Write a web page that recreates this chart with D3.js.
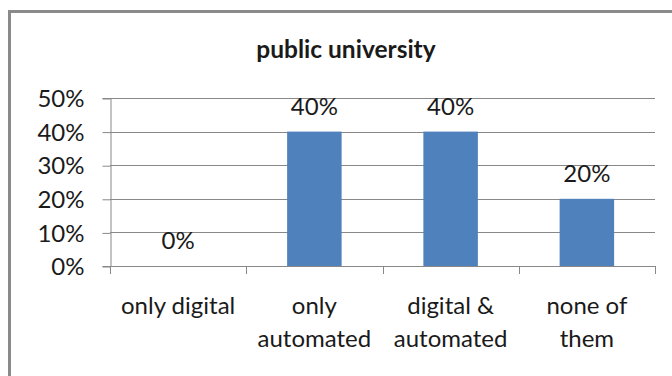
<!DOCTYPE html>
<html>
<head>
<meta charset="utf-8">
<script src="https://cdn.jsdelivr.net/npm/d3@7"></script>
<style>
  html, body { margin: 0; padding: 0; background: #fff; }
  svg { display: block; }
  text { font-family: Lato, "Open Sans", sans-serif; fill: #1a1a1a; }
</style>
</head>
<body>
<svg id="chart" width="672" height="376"></svg>
<script>
// Share of respondents by kind of library system
const title = "public university";
const categories = [
  ["only digital"],
  ["only", "automated"],
  ["digital &", "automated"],
  ["none of", "them"]
];
const values = [0, 0.40, 0.40, 0.20];
const yTicks = [0, 0.1, 0.2, 0.3, 0.4, 0.5];

const svg = d3.select("#chart");
const W = 672, H = 376;
const plot = { left: 110, right: 655, top: 98, bottom: 266 };
const gridColor = "#888888";
const barColor = "#4F81BD";

// outer chart frame (runs past the right and bottom edges)
svg.append("rect")
  .attr("x", 9.5).attr("y", 11.5)
  .attr("width", W + 10).attr("height", H + 10)
  .attr("fill", "none")
  .attr("stroke", "#8a8a8a")
  .attr("stroke-width", 3);

svg.append("text")
  .attr("x", 346).attr("y", 58)
  .attr("text-anchor", "middle")
  .attr("font-weight", "bold")
  .attr("font-size", 24.5)
  .attr("fill", "#000")
  .text(title);

const x = d3.scaleBand()
  .domain(d3.range(categories.length))
  .range([plot.left, plot.right])
  .paddingInner(0.6)
  .paddingOuter(0.3);

const y = d3.scaleLinear()
  .domain([0, 0.5])
  .range([plot.bottom, plot.top]);

// horizontal gridlines
svg.append("g")
  .selectAll("line")
  .data(yTicks.filter(d => d > 0))
  .join("line")
  .attr("x1", plot.left).attr("x2", plot.right)
  .attr("y1", d => Math.round(y(d)) + 0.5)
  .attr("y2", d => Math.round(y(d)) + 0.5)
  .attr("stroke", gridColor)
  .attr("stroke-width", 1);

// y axis
const yAxis = d3.axisLeft(y)
  .tickValues(yTicks)
  .tickFormat(d3.format(".0%"))
  .tickSize(8)
  .tickPadding(18);
const gy = svg.append("g")
  .attr("transform", `translate(${plot.left + 0.5},0)`)
  .call(yAxis);
gy.select(".domain").attr("stroke", gridColor);
gy.selectAll(".tick line").attr("stroke", gridColor)
  .attr("transform", "translate(0,0.5)");
gy.selectAll(".tick text")
  .attr("font-size", 24)
  .attr("font-family", "Lato, sans-serif")
  .attr("fill", "#1a1a1a")
  .attr("dy", "0.36em");

// bars
svg.append("g")
  .selectAll("rect")
  .data(values)
  .join("rect")
  .attr("x", (d, i) => x(i))
  .attr("y", d => y(d))
  .attr("width", x.bandwidth())
  .attr("height", d => y(0) - y(d))
  .attr("fill", barColor);

// x axis with ticks at category boundaries
const step = x.step();
const boundaries = d3.range(categories.length + 1).map(i => plot.left + i * step);
const gx = svg.append("g");
gx.append("line")
  .attr("x1", plot.left).attr("x2", plot.right)
  .attr("y1", Math.round(y(0)) + 0.5).attr("y2", Math.round(y(0)) + 0.5)
  .attr("stroke", gridColor);
gx.selectAll("line.tick")
  .data(boundaries)
  .join("line")
  .attr("class", "tick")
  .attr("x1", d => Math.round(d) + 0.5).attr("x2", d => Math.round(d) + 0.5)
  .attr("y1", Math.round(y(0))).attr("y2", Math.round(y(0)) + 8)
  .attr("stroke", gridColor);

// value labels
svg.append("g")
  .selectAll("text")
  .data(values)
  .join("text")
  .attr("x", (d, i) => x(i) + x.bandwidth() / 2)
  .attr("y", d => y(d) - 17)
  .attr("text-anchor", "middle")
  .attr("font-size", 24)
  .text(d3.format(".0%"));

// category labels
const cat = svg.append("g")
  .selectAll("text")
  .data(categories)
  .join("text")
  .attr("x", (d, i) => x(i) + x.bandwidth() / 2)
  .attr("y", 314)
  .attr("text-anchor", "middle")
  .attr("font-size", 24);
cat.selectAll("tspan")
  .data(d => d)
  .join("tspan")
  .attr("x", function () { return d3.select(this.parentNode).attr("x"); })
  .attr("dy", (d, i) => i === 0 ? 0 : 33)
  .text(d => d);
</script>
</body>
</html>
